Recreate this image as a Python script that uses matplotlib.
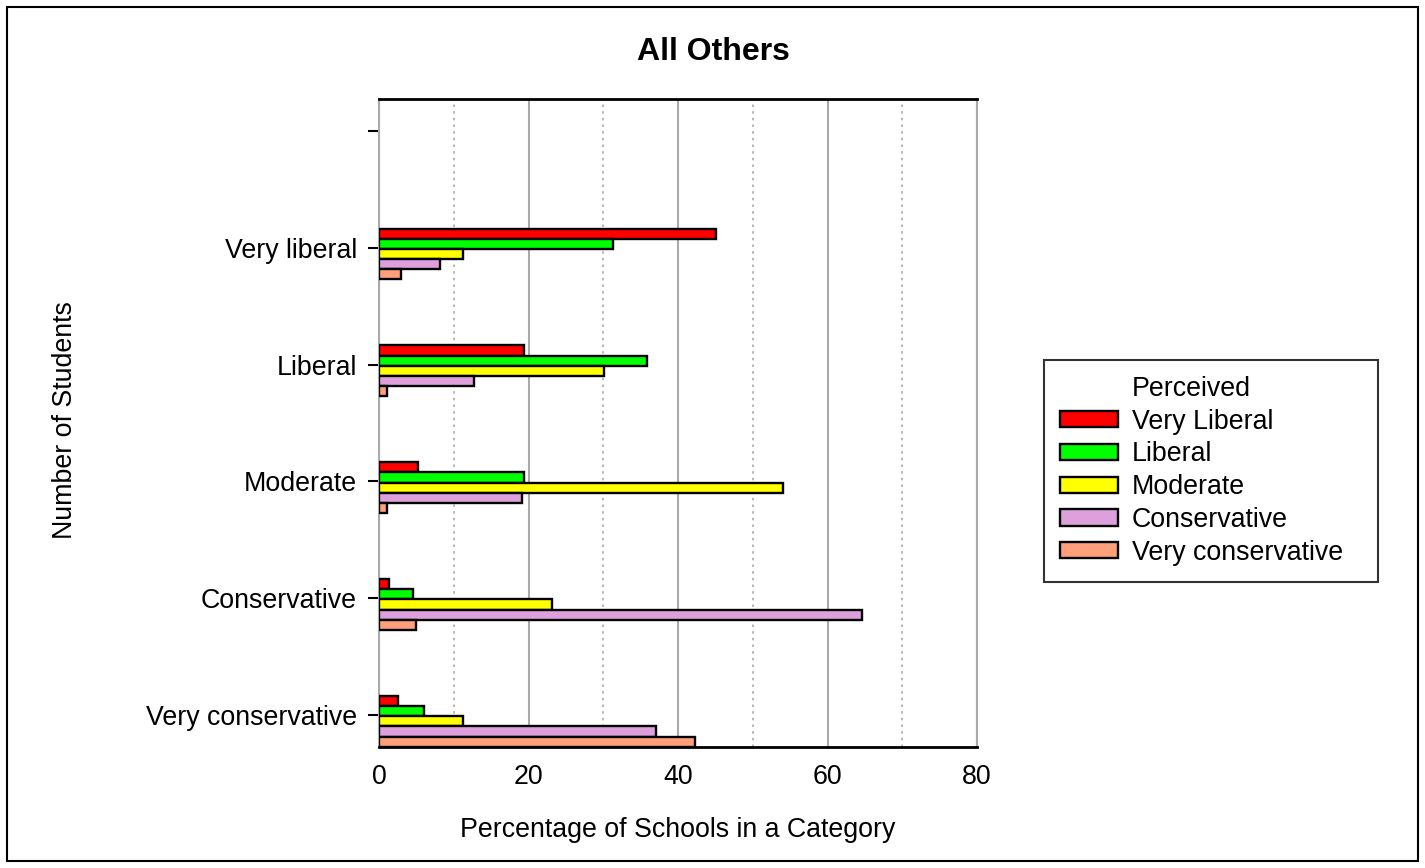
import matplotlib
matplotlib.use("Agg")
import matplotlib.pyplot as plt
import numpy as np
from matplotlib.patches import Rectangle
from matplotlib.ticker import MultipleLocator

plt.rcParams['font.family'] = ['Liberation Sans', 'DejaVu Sans']

categories = ["Very conservative", "Conservative", "Moderate", "Liberal", "Very liberal", ""]
series_names = ["Very Liberal", "Liberal", "Moderate", "Conservative", "Very conservative"]
colors = ["#ff0000", "#00ff00", "#ffff00", "#dda0dd", "#ffa07a"]

# values per series, ordered as categories (bottom to top, last empty)
very_liberal      = [2.5, 1.4, 5.2, 19.4, 45.1]
liberal           = [6.0, 4.6, 19.4, 35.9, 31.3]
moderate          = [11.3, 23.1, 54.1, 30.1, 11.3]
conservative      = [37.0, 64.6, 19.1, 12.7, 8.1]
very_conservative = [42.3, 4.9, 1.1, 1.1, 3.0]
series = [very_liberal, liberal, moderate, conservative, very_conservative]

FS = 19.3

fig = plt.figure(figsize=(14.25, 8.68), dpi=100)
ax = fig.add_axes([379/1425, 1-747/868, (977-379)/1425, (747-99)/868])

ypos = np.arange(len(categories))
h = 0.087
handles = []
for i, (name, vals, c) in enumerate(zip(series_names, series, colors)):
    off = 0.121 - h * i
    b = ax.barh(ypos[:len(vals)] + off, vals, height=h, color=c, edgecolor='black',
                linewidth=1.7, label=name, zorder=3)
    handles.append(b)

ax.set_xlim(0, 80)
ax.set_ylim(-0.273, 5.273)
ax.set_yticks(ypos)
ax.set_yticklabels(categories, fontsize=FS)
ax.xaxis.set_major_locator(MultipleLocator(20))
ax.xaxis.set_minor_locator(MultipleLocator(10))
ax.tick_params(axis='x', which='both', length=0, labelsize=FS, pad=12)
ax.tick_params(axis='y', length=8, width=1.5, color='black', labelsize=FS, pad=8)
ax.grid(True, axis='x', which='major', color='#aaaaaa', linewidth=1.5, zorder=0)
ax.grid(True, axis='x', which='minor', color='#aaaaaa', linewidth=1.2, linestyle=(0, (1.5, 2.5)), zorder=0)

for s in ['left', 'right']:
    ax.spines[s].set_color('#aaaaaa')
    ax.spines[s].set_linewidth(1.5)
for s in ['top', 'bottom']:
    ax.spines[s].set_color('black')
    ax.spines[s].set_linewidth(2)

fig.text(713/1425, 1-52/868, "All Others", fontsize=23, fontweight='bold',
         ha='center', va='center')
ax.set_xlabel("Percentage of Schools in a Category", fontsize=FS, labelpad=20)
fig.text(65/1425, 1-420/868, "Number of Students", rotation=90, fontsize=FS,
         ha='center', va='center')

blank = Rectangle((0, 0), 1, 1, fill=False, edgecolor='none', linewidth=0)
leg = ax.legend([blank] + handles, ["Perceived"] + series_names, loc='upper left',
                bbox_to_anchor=(1044/1425, 1-583/868, (1378-1044)/1425, (583-360)/868),
                bbox_transform=fig.transFigure, mode='expand',
                fontsize=FS, frameon=True, fancybox=False,
                edgecolor='black', handlelength=2.16, handleheight=0.56,
                labelspacing=0.25, borderpad=0.6, handletextpad=0.52,
                borderaxespad=0)
leg.get_frame().set_linewidth(1.5)

fig.patches.append(Rectangle((7/1425, 7/868), 1 - 14/1425, 1 - 14/868,
                             transform=fig.transFigure, fill=False,
                             edgecolor='black', linewidth=1.5))

fig.savefig("out.png", dpi=100, facecolor='white')
